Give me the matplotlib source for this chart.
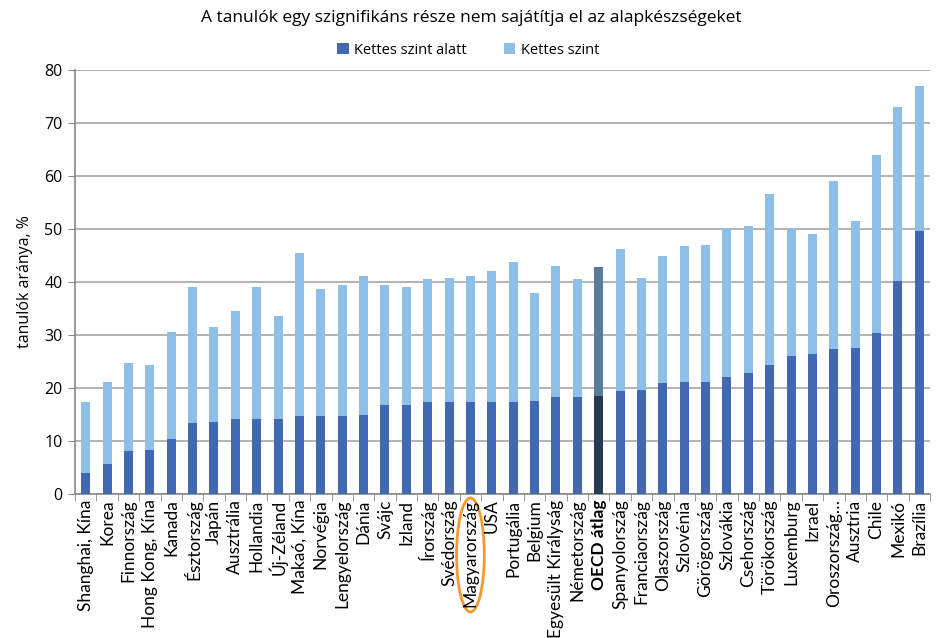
import numpy as np
import matplotlib
matplotlib.use("Agg")
import matplotlib.pyplot as plt
from matplotlib.patches import Ellipse

plt.rcParams['font.family'] = ['Open Sans', 'DejaVu Sans']

countries = ["Shanghai, Kína", "Korea", "Finnország", "Hong Kong, Kína", "Kanada",
             "Észtország", "Japán", "Ausztrália", "Hollandia", "Új-Zéland",
             "Makaó, Kína", "Norvégia", "Lengyelország", "Dánia", "Svájc",
             "Izland", "Írország", "Svédország", "Magyarország", "USA",
             "Portugália", "Belgium", "Egyesült Királyság", "Németország", "OECD átlag",
             "Spanyolország", "Franciaország", "Olaszország", "Szlovénia", "Görögország",
             "Szlovákia", "Csehország", "Törökország", "Luxemburg", "Izrael",
             "Oroszország…", "Ausztria", "Chile", "Mexikó", "Brazília"]

below2 = [3.9, 5.6, 8.1, 8.3, 10.3, 13.4, 13.5, 14.2, 14.2, 14.2,
          14.8, 14.8, 14.8, 15.0, 16.8, 16.8, 17.3, 17.3, 17.4, 17.4,
          17.4, 17.6, 18.3, 18.3, 18.4, 19.4, 19.6, 20.9, 21.2, 21.2,
          22.0, 22.9, 24.4, 26.0, 26.5, 27.3, 27.6, 30.4, 40.2, 49.6]

total = [17.3, 21.2, 24.8, 24.4, 30.5, 39.0, 31.6, 34.6, 39.0, 33.5,
         45.4, 38.6, 39.5, 41.2, 39.5, 39.0, 40.6, 40.8, 41.2, 42.1,
         43.8, 37.9, 43.1, 40.6, 42.8, 46.2, 40.8, 45.0, 46.7, 46.9,
         50.2, 50.5, 56.6, 50.0, 49.1, 59.0, 51.5, 63.9, 73.1, 76.9]

level2 = [t - b for t, b in zip(total, below2)]

dark = '#4169B2'
light = '#8EBFE6'
oecd_dark = '#263B52'
oecd_light = '#5A7B99'

x = np.arange(len(countries))
oecd_idx = countries.index("OECD átlag")
c1 = [oecd_dark if i == oecd_idx else dark for i in x]
c2 = [oecd_light if i == oecd_idx else light for i in x]

fig = plt.figure(figsize=(9.42, 6.38), dpi=100)
ax = fig.add_axes([75 / 942, 1 - 494 / 638, 855 / 942, 424 / 638])

ax.bar(x, below2, width=0.42, color=c1, label='Kettes szint alatt', zorder=3)
ax.bar(x, level2, bottom=below2, width=0.42, color=c2, label='Kettes szint', zorder=3)

ax.set_xlim(-0.5, len(countries) - 0.5)
ax.set_ylim(0, 80)
ax.set_yticks(range(0, 81, 10))
ax.yaxis.grid(True, color='#A6A6A6', linewidth=1.2, zorder=0)
ax.tick_params(axis='y', labelsize=11.5, length=5, color='#888888', pad=4)

ax.set_xticks(x)
ax.set_xticklabels(countries, rotation=90, fontsize=12.5, family=['Lato', 'DejaVu Sans'])
ax.tick_params(axis='x', length=0, pad=4)
ax.set_xticks(np.arange(-0.5, len(countries), 1), minor=True)
ax.tick_params(axis='x', which='minor', length=5, color='#888888')
for lbl in ax.get_xticklabels():
    if lbl.get_text() == "OECD átlag":
        lbl.set_fontweight('bold')

for s in ['top', 'right']:
    ax.spines[s].set_visible(False)
for s in ['left', 'bottom']:
    ax.spines[s].set_color('#888888')
    ax.spines[s].set_linewidth(1.2)

ax.set_ylabel('tanulók aránya, %', fontsize=11.5, labelpad=8)

fig.text(0.5, 1 - 18 / 638, 'A tanulók egy szignifikáns része nem sajátítja el az alapkészségeket',
         ha='center', va='center', fontsize=12.5)
fig.legend(loc='center', bbox_to_anchor=(0.497, 1 - 50 / 638), ncol=2, frameon=False,
           fontsize=10.5, handlelength=0.8, handleheight=0.8, columnspacing=2.5, handletextpad=0.4)

# orange ellipse around Hungary's label
hu = countries.index("Magyarország")
ell = Ellipse((hu, -11.5), width=1.3, height=21.5, fill=False, edgecolor='#F39A2E',
              linewidth=2, clip_on=False, transform=ax.transData)
ax.add_patch(ell)

fig.savefig('out.png', dpi=100)
